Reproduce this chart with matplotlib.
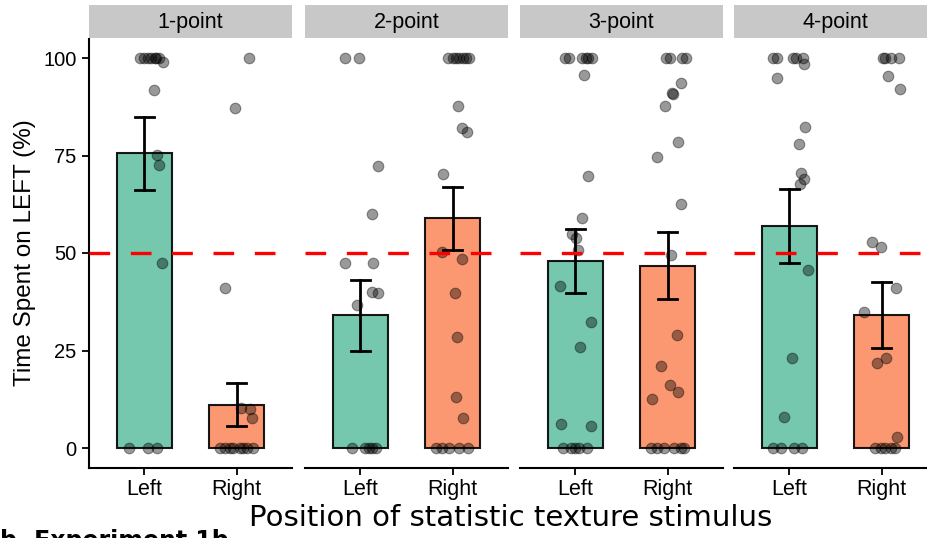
import matplotlib.pyplot as plt

# facet / category labels
panels = ['1-point', '2-point', '3-point', '4-point']
positions = ['Left', 'Right']

# bar heights (mean %) and error bar limits
means = [[75.6, 11.0], [34.1, 58.9], [48.0, 46.7], [56.8, 34.0]]
err_hi = [[85.0, 16.7], [43.1, 67.0], [56.2, 55.3], [66.3, 42.5]]
err_lo = [[66.2, 5.6], [24.9, 50.8], [39.7, 38.1], [47.5, 25.6]]

# individual participants (value, horizontal jitter in category units)
p1_left = [100, 100, 100, 100, 100, 100, 100, 99.1, 91.8, 75.1, 72.6, 47.4, 0, 0, 0]
p1_left_jit = [-0.05, 0, 0.04, 0.07, 0.11, 0.13, 0.16, 0.20, 0.10, 0.14, 0.16, 0.19, -0.17, 0.04, 0.14]
p1_right = [100, 87.3, 41.1, 10.2, 10.0, 7.8, 0, 0, 0, 0, 0, 0, 0, 0]
p1_right_jit = [0.13, -0.02, -0.13, 0.05, 0.14, 0.17, -0.18, -0.13, -0.07, -0.04, 0.04, 0.07, 0.11, 0.18]

p2_left = [100, 100, 72.3, 60.0, 47.5, 47.5, 40.1, 39.7, 36.7, 0, 0, 0, 0, 0]
p2_left_jit = [-0.17, -0.02, 0.19, 0.13, -0.17, 0.14, 0.13, 0.19, -0.04, -0.09, 0.05, 0.09, 0.13, 0.17]
p2_right = [100, 100, 100, 100, 100, 100, 100, 87.7, 82.1, 81.1, 70.2, 50.3, 48.4, 39.7,
            28.5, 13.0, 7.8, 0, 0, 0, 0, 0]
p2_right_jit = [-0.05, 0, 0.04, 0.07, 0.11, 0.14, 0.18, 0.06, 0.10, 0.16, -0.10, -0.12, 0.10, 0.03,
                0.05, 0.04, 0.11, -0.18, -0.11, -0.04, 0.07, 0.17]

p3_left = [100, 100, 100, 100, 100, 100, 95.6, 69.7, 58.9, 54.9, 53.8, 50.8, 41.5, 32.2,
           26.0, 6.1, 5.6, 0, 0, 0, 0, 0]
p3_left_jit = [-0.11, -0.07, 0.07, 0.11, 0.14, 0.18, 0.09, 0.14, 0.07, -0.04, 0.01, 0.03, -0.17, 0.17,
               0.05, -0.16, 0.17, -0.13, -0.05, 0, 0.04, 0.13]
p3_right = [100, 100, 100, 100, 93.5, 91.1, 90.7, 87.7, 78.4, 74.7, 62.5, 49.5, 29.0, 21.1,
            16.2, 14.3, 12.5, 0, 0, 0, 0, 0, 0]
p3_right_jit = [-0.02, 0.03, 0.16, 0.20, 0.15, 0.05, 0.06, -0.03, 0.11, -0.12, 0.15, 0.04, 0.10, -0.07,
                0.03, 0.11, -0.17, -0.18, -0.11, -0.04, 0.07, 0.14, 0.18]

p4_left = [100, 100, 100, 100, 100, 98.4, 94.8, 82.4, 77.9, 70.6, 68.9, 67.7, 45.6, 23.2,
           7.9, 0, 0, 0, 0]
p4_left_jit = [-0.18, -0.13, 0.04, 0.07, 0.15, 0.16, -0.13, 0.17, 0.10, 0.13, 0.16, 0.11, 0.20, 0.03,
               -0.06, -0.18, -0.09, 0.05, 0.14]
p4_right = [100, 100, 100, 100, 95.4, 92.1, 52.7, 51.5, 41.1, 35.0, 23.2, 21.7, 2.7, 0, 0, 0, 0, 0]
p4_right_jit = [0.01, 0.04, 0.10, 0.19, 0.07, 0.20, -0.10, -0.01, 0.16, -0.19, 0.05, -0.05, 0.17,
                -0.07, -0.01, 0.04, 0.10, 0.15]

points = [[(p1_left, p1_left_jit), (p1_right, p1_right_jit)],
          [(p2_left, p2_left_jit), (p2_right, p2_right_jit)],
          [(p3_left, p3_left_jit), (p3_right, p3_right_jit)],
          [(p4_left, p4_left_jit), (p4_right, p4_right_jit)]]

colors = ['#66C2A5', '#FC8D62']
font = 'Liberation Sans'

W, H = 928, 538
fig = plt.figure(figsize=(W / 100, H / 100), dpi=100)

panel_left = [89, 305, 520, 734]
panel_w = 203
ax_bottom, ax_top = 467.5, 38.5
strip_top = 5

for i, name in enumerate(panels):
    x0 = panel_left[i]
    ax = fig.add_axes([x0 / W, (H - ax_bottom) / H, panel_w / W, (ax_bottom - ax_top) / H])
    xs = [0, 1]
    ax.bar(xs, means[i], width=0.6, color=colors, alpha=0.9, edgecolor='black',
           linewidth=1.5, zorder=2)
    for j in range(2):
        ax.plot([xs[j], xs[j]], [err_lo[i][j], err_hi[i][j]], color='black', lw=2.0, zorder=3)
        for yv in (err_lo[i][j], err_hi[i][j]):
            ax.plot([xs[j] - 0.1, xs[j] + 0.1], [yv, yv], color='black', lw=2.0, zorder=3)
        vals, jit = points[i][j]
        ax.scatter([xs[j] + d for d in jit], vals, s=58, color='black', alpha=0.4,
                   linewidths=0.8, zorder=4)
    ax.axhline(50, color='#FF0000', lw=2.4, ls=(0, (6.2, 6.2)), zorder=5)
    ax.set_xlim(-0.6, 1.6)
    ax.set_ylim(-5, 105)
    ax.set_xticks(xs)
    ax.set_xticklabels(positions, fontsize=15.5, family=font)
    ax.tick_params(axis='x', length=5, width=1.3, pad=3)
    for s in ['top', 'right']:
        ax.spines[s].set_visible(False)
    ax.spines['bottom'].set_linewidth(1.5)
    if i == 0:
        ax.set_yticks([0, 25, 50, 75, 100])
        ax.set_yticklabels(['0', '25', '50', '75', '100'], fontsize=14.5, family=font)
        ax.tick_params(axis='y', length=5, width=1.3, pad=4)
        ax.spines['left'].set_linewidth(1.5)
    else:
        ax.spines['left'].set_visible(False)
        ax.set_yticks([])

    # facet strip
    sax = fig.add_axes([x0 / W, (H - ax_top + 1) / H, panel_w / W, (ax_top - 1 - strip_top) / H])
    sax.set_facecolor('#C8C8C8')
    sax.set_xticks([])
    sax.set_yticks([])
    for s in sax.spines.values():
        s.set_visible(False)
    sax.text(0.5, 0.45, name, ha='center', va='center', fontsize=15.5, family=font,
             transform=sax.transAxes)

fig.text(25 / W, (H - 253) / H, 'Time Spent on LEFT (%)', rotation=90, ha='center',
         va='center', fontsize=17.5, family=font)
fig.text(511 / W, (H - 518) / H, 'Position of statistic texture stimulus', ha='center',
         va='center', fontsize=21, family='DejaVu Sans')
# panel caption below, mostly cut off by the figure edge as in the source
fig.text(0, -10 / H, 'b. Experiment 1b', ha='left', va='baseline', fontsize=17,
         fontweight='bold', family='DejaVu Sans')

fig.savefig('out.png', dpi=100)
